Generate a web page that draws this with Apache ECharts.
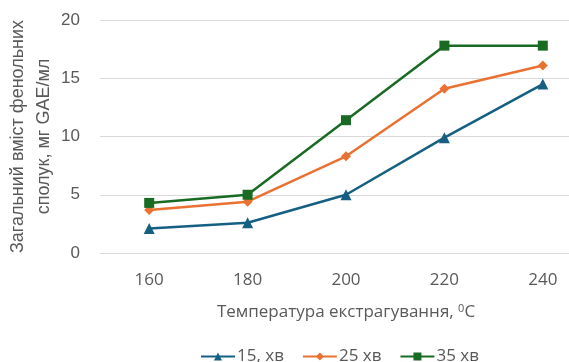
<!DOCTYPE html>
<html>
<head>
<meta charset="utf-8">
<script src="https://cdn.jsdelivr.net/npm/echarts@6/dist/echarts.min.js"></script>
<style>html,body{margin:0;padding:0;background:#fff}#c{width:569px;height:362px}</style>
</head>
<body>
<div id="c"></div>
<script>
// Extraction temperature, °C
const temperatures = ['160', '180', '200', '220', '240'];
// Total phenolic content, mg GAE/ml, by extraction time
const min15 = [2.1, 2.6, 5.0, 9.9, 14.5];
const min25 = [3.7, 4.4, 8.3, 14.1, 16.1];
const min35 = [4.3, 5.0, 11.4, 17.8, 17.8];
const seriesNames = ['15, хв', '25 хв', '35 хв'];
const yTicks = { min: 0, max: 20, interval: 5 };

const textColor = '#595959';
const fontX = 'Open Sans';
const fontY = 'Liberation Sans';

function line(name, data, color, symbol, size) {
  return {
    name, type: 'line', data,
    symbol, symbolSize: size,
    lineStyle: { color, width: 2.5 },
    itemStyle: { color },
    emphasis: { disabled: true }
  };
}

const chart = echarts.init(document.getElementById('c'), null, { renderer: 'canvas' });
chart.setOption({
  animation: false,
  grid: { left: 100, top: 20, width: 492, height: 233, containLabel: false, outerBoundsMode: 'none' },
  xAxis: {
    type: 'category', data: temperatures,
    axisLine: { lineStyle: { color: '#d9d9d9' } },
    axisTick: { show: false },
    axisLabel: { color: textColor, fontSize: 17, margin: 19, fontFamily: fontX },
    name: '{t|Температура екстрагування, }{s|0}{t|C}',
    nameLocation: 'middle', nameGap: 50, nameMoveOverlap: false,
    nameTextStyle: {
      rich: {
        t: { color: textColor, fontSize: 17, fontFamily: fontX },
        s: { color: textColor, fontSize: 11, fontFamily: fontX, verticalAlign: 'top', padding: [0, 0, 8, 0] }
      }
    }
  },
  yAxis: {
    type: 'value', min: yTicks.min, max: yTicks.max, interval: yTicks.interval,
    axisLine: { show: false }, axisTick: { show: false },
    splitLine: { lineStyle: { color: '#d9d9d9', width: 1 } },
    axisLabel: { color: textColor, fontSize: 17, margin: 20, fontFamily: fontY },
    name: 'Загальний вміст фенольних\nсполук, мг GAE/мл',
    nameLocation: 'middle', nameGap: 43, nameRotate: 90, nameMoveOverlap: false,
    nameTextStyle: { color: textColor, fontSize: 18, lineHeight: 26, fontFamily: fontY, align: 'center' }
  },
  legend: {
    top: 343, left: 195, itemGap: 18, itemWidth: 34, itemHeight: 10,
    textStyle: { color: textColor, fontSize: 17, fontFamily: fontX, padding: [0, 0, 0, -3] },
    data: seriesNames
  },
  series: [
    line(seriesNames[0], min15, '#156082', 'triangle', 11),
    line(seriesNames[1], min25, '#E97132', 'diamond', 10),
    line(seriesNames[2], min35, '#196B24', 'rect', 10)
  ]
});
</script>
</body>
</html>
